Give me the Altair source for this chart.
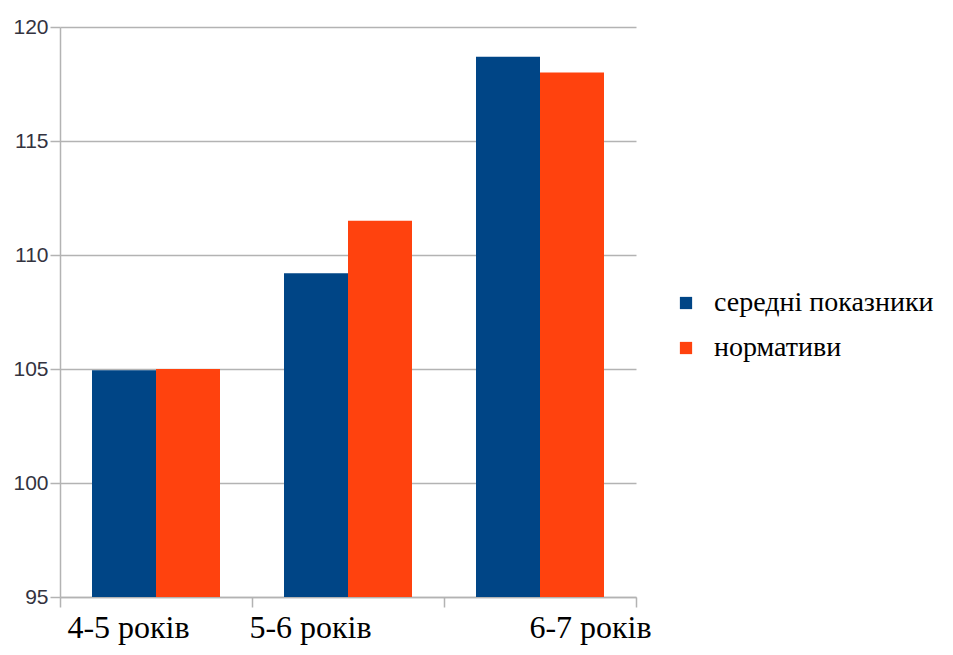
import altair as alt
import pandas as pd

categories = ["4-5 років", "5-6 років", "6-7 років"]
series = ["середні показники", "нормативи"]
avg_values = [104.95, 109.2, 118.7]
norm_values = [105.0, 111.5, 118.0]
colors = ["#004586", "#ff420e"]

rows = []
for c, a, n in zip(categories, avg_values, norm_values):
    rows.append({"cat": c, "series": series[0], "value": a})
    rows.append({"cat": c, "series": series[1], "value": n})
df = pd.DataFrame(rows)

label_offset = alt.expr(
    "datum.label == '4-5 років' ? -28 : datum.label == '5-6 років' ? -38 : 50"
)

chart = alt.Chart(df).mark_bar().encode(
    x=alt.X("cat:N", sort=categories, title=None,
            scale=alt.Scale(paddingInner=0, paddingOuter=0),
            axis=alt.Axis(labelAngle=0, labelFont="Liberation Serif", labelFontSize=32,
                          labelColor="black", labelPadding=30, labelBaseline="alphabetic",
                          labelOffset=label_offset,
                          tickBand="extent", tickSize=10, tickColor="#b3b3b3", tickWidth=1.5,
                          domainColor="#b3b3b3", domainWidth=1.5, grid=False)),
    xOffset=alt.XOffset("series:N", sort=series,
                        scale=alt.Scale(paddingInner=0, paddingOuter=0.5)),
    y=alt.Y("value:Q", title=None,
            scale=alt.Scale(domain=[95, 120], zero=False, nice=False, clamp=True),
            axis=alt.Axis(values=[95, 100, 105, 110, 115, 120], labelFont="Liberation Sans",
                          labelFontSize=21, labelColor="#333340", tickSize=10,
                          tickColor="#b3b3b3", tickWidth=1.5, domainColor="#b3b3b3",
                          domainWidth=1.5, gridColor="#b3b3b3", gridWidth=1.5,
                          labelPadding=2)),
    color=alt.Color("series:N", sort=series, title=None,
                    scale=alt.Scale(domain=series, range=colors),
                    legend=alt.Legend(orient="none", legendX=612, legendY=262,
                                      symbolType="square", symbolSize=150,
                                      symbolStrokeWidth=0,
                                      labelFont="Liberation Serif", labelFontSize=28,
                                      labelColor="black", rowPadding=17, labelOffset=14,
                                      labelLimit=400)),
).properties(
    width=576, height=570,
    autosize=alt.AutoSizeParams(type="none"),
    padding={"left": 52, "top": 19, "right": 309, "bottom": 50},
).configure_view(stroke=None)

chart.save("out.html", embed_options={"renderer": "svg", "actions": False})
